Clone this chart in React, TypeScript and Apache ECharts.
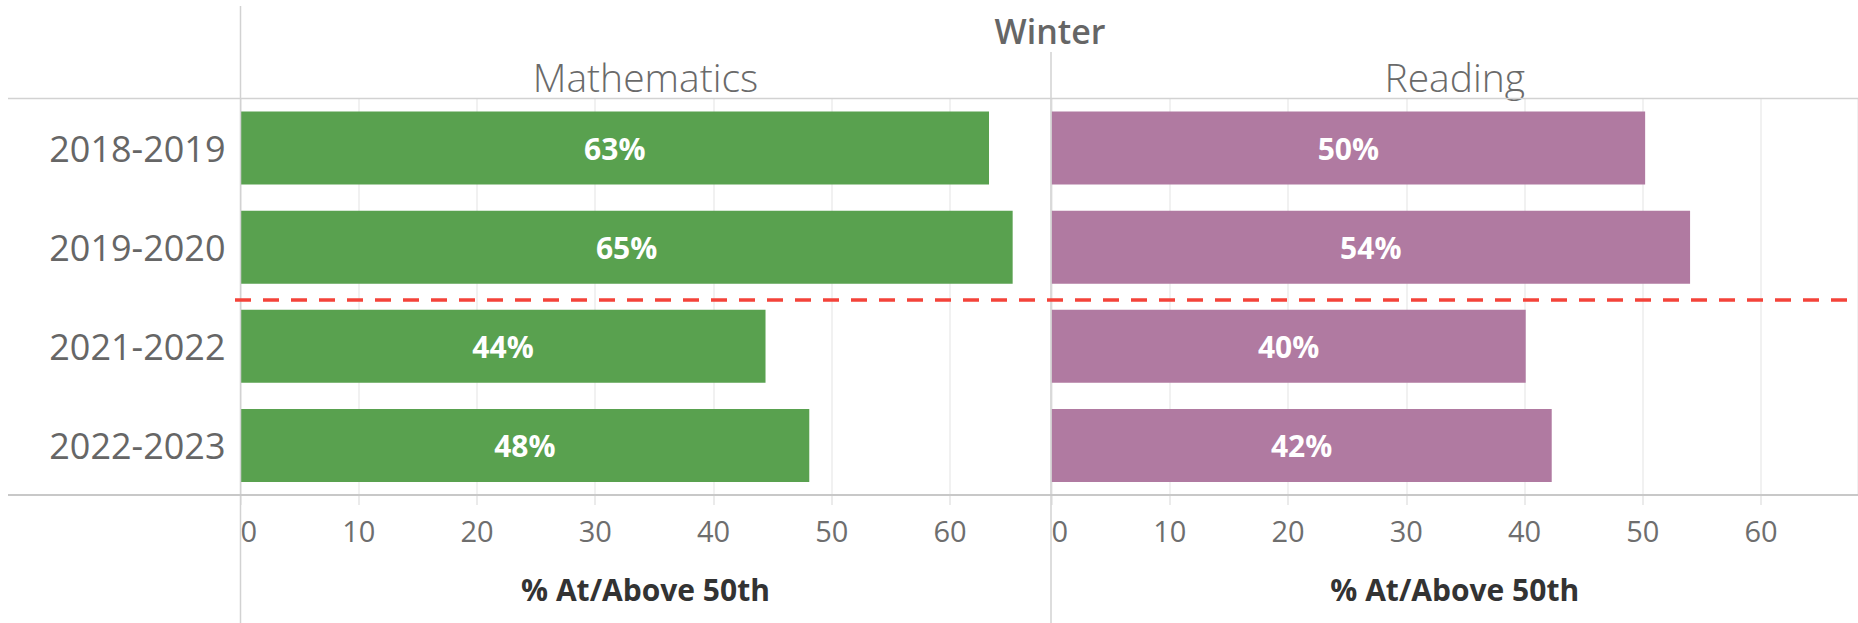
import React, { useEffect, useRef } from "react";
import * as echarts from "echarts";

const seasons = ["2018-2019", "2019-2020", "2021-2022", "2022-2023"];
const mathValues = [63.3, 65.3, 44.4, 48.1];
const readingValues = [50.2, 54.0, 40.1, 42.3];
const subjects = ["Mathematics", "Reading"];
const subjectColors = ["#59a14f", "#b07aa1"];
const termLabel = "Winter";
const measureLabel = "% At/Above 50th";
const tickInterval = 10;
const axisMax = [68.5, 68.2];

const W = 1858;
const H = 623;
const FONT = "'Open Sans', 'DejaVu Sans', sans-serif";

export default function App() {
  const ref = useRef<HTMLDivElement>(null);

  useEffect(() => {
    if (!ref.current) return;
    const chart = echarts.init(ref.current, undefined, { renderer: "svg" });

    const gridTop = 98.5;
    const gridBottomY = 495;
    const grids = [
      { left: 240.5, width: 810, top: gridTop, height: gridBottomY - gridTop },
      { left: 1051.5, width: 806.5, top: gridTop, height: gridBottomY - gridTop },
    ];
    const seriesData = [mathValues, readingValues];

    const lineColor = "#d2d2d2";
    const option: any = {
      animation: false,
      backgroundColor: "#ffffff",
      grid: grids.map((g) => ({ ...g, containLabel: false })),
      xAxis: grids.map((_, i) => ({
        gridIndex: i,
        type: "value",
        min: 0,
        max: axisMax[i],
        interval: tickInterval,
        axisLine: { show: false },
        axisTick: { show: true, length: 10, lineStyle: { color: "#e4e4e4", width: 1.5 } },
        splitLine: { show: true, lineStyle: { color: "#ececec", width: 1.5 } },
        axisLabel: {
          fontSize: 29,
          color: "#6e6e6e",
          fontFamily: FONT,
          margin: 21,
          alignMinLabel: "left",
          showMaxLabel: false,
          formatter: (v: number) => (v % tickInterval === 0 ? String(v) : ""),
        },
      })),
      yAxis: grids.map((_, i) => ({
        gridIndex: i,
        type: "category",
        data: seasons,
        inverse: true,
        axisLine: { show: false },
        axisTick: { show: false },
        splitLine: { show: false },
        axisLabel: {
          show: i === 0,
          fontSize: 36,
          color: "#666666",
          fontFamily: FONT,
          margin: 15,
        },
      })),
      series: seriesData.map((d, i) => ({
        type: "bar",
        name: subjects[i],
        xAxisIndex: i,
        yAxisIndex: i,
        data: d,
        barWidth: 73,
        itemStyle: { color: subjectColors[i] },
        label: {
          show: true,
          position: "inside",
          formatter: (p: any) => Math.round(p.value) + "%",
          color: "#ffffff",
          fontWeight: "bold",
          fontSize: 30,
          fontFamily: FONT,
        },
      })),
      graphic: [
        { type: "line", shape: { x1: 240.5, y1: 6, x2: 240.5, y2: H }, style: { stroke: lineColor, lineWidth: 1.5 }, z: 5 },
        { type: "line", shape: { x1: 1051, y1: 52, x2: 1051, y2: H }, style: { stroke: lineColor, lineWidth: 1.5 }, z: 5 },
        { type: "line", shape: { x1: 8, y1: gridTop, x2: W, y2: gridTop }, style: { stroke: lineColor, lineWidth: 1.5 }, z: 5 },
        { type: "line", shape: { x1: 8, y1: gridBottomY, x2: W, y2: gridBottomY }, style: { stroke: "#c8c8c8", lineWidth: 2 }, z: 5 },
        {
          type: "line",
          shape: { x1: 235, y1: 300, x2: 1847, y2: 300 },
          style: { stroke: "#f4433a", lineWidth: 3.5, lineDash: [16, 12] },
          z: 6,
        },
        {
          type: "text",
          x: 1050,
          y: 31,
          style: { text: termLabel, fontSize: 34, fontWeight: 600, fill: "#666666", align: "center", verticalAlign: "middle", fontFamily: FONT },
        },
        ...subjects.map((s, i) => ({
          type: "text",
          x: grids[i].left + grids[i].width / 2,
          y: 76,
          style: { text: s, fontSize: 39, fontWeight: 300, fill: "#6a6a6a", align: "center", verticalAlign: "middle", fontFamily: FONT },
        })),
        ...subjects.map((_, i) => ({
          type: "text",
          x: grids[i].left + grids[i].width / 2,
          y: 589,
          style: { text: measureLabel, fontSize: 30, fontWeight: "bold", fill: "#333333", align: "center", verticalAlign: "middle", fontFamily: FONT },
        })),
      ],
    };

    chart.setOption(option);
    return () => chart.dispose();
  }, []);

  return (
    <div
      ref={ref}
      style={{ position: "fixed", left: 0, top: 0, width: W, height: H, background: "#fff" }}
    />
  );
}
